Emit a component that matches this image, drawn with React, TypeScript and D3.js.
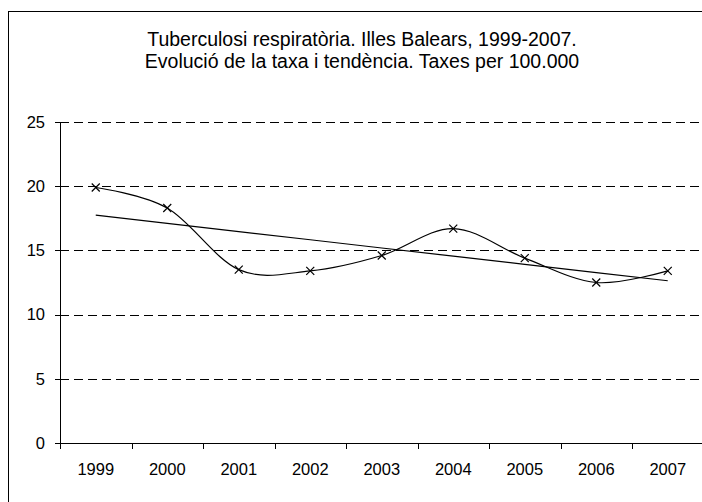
import React from "react";
import * as d3 from "d3";

const years = ["1999", "2000", "2001", "2002", "2003", "2004", "2005", "2006", "2007"];
const rates = [19.9, 18.3, 13.5, 13.4, 14.6, 16.7, 14.4, 12.5, 13.4];
const yTicks = [0, 5, 10, 15, 20, 25];
const titleLines = [
  "Tuberculosi respiratòria. Illes Balears, 1999-2007.",
  "Evolució de la taxa i tendència. Taxes per 100.000",
];

const W = 702;
const H = 502;
const left = 60;
const right = 703.5;
const top = 122;
const bottom = 443;

export default function App() {
  const x = d3.scaleBand<string>().domain(years).range([left, right]);
  const y = d3.scaleLinear().domain([0, 25]).range([bottom, top]);
  const cx = (d: string) => (x(d) as number) + x.bandwidth() / 2;

  // least squares trend
  const n = rates.length;
  const mx = (n - 1) / 2;
  const my = d3.mean(rates) as number;
  let sxy = 0;
  let sxx = 0;
  rates.forEach((v, i) => {
    sxy += (i - mx) * (v - my);
    sxx += (i - mx) * (i - mx);
  });
  const slope = sxy / sxx;
  const trend = rates.map((_, i) => my + slope * (i - mx));

  const smooth = d3
    .line<number>()
    .x((_, i) => cx(years[i]))
    .y((v) => y(v))
    .curve(d3.curveCatmullRom.alpha(0));
  const straight = d3
    .line<number>()
    .x((_, i) => cx(years[i]))
    .y((v) => y(v));

  const font = "Arial, 'Liberation Sans', sans-serif";

  return (
    <div style={{ position: "fixed", left: 0, top: 0 }}>
      <svg width={W} height={H} style={{ display: "block" }}>
        <rect x={0} y={0} width={W} height={H} fill="#fff" />
        <rect x={8.5} y={11.5} width={720} height={520} fill="none" stroke="#000" strokeWidth={1} />
        {titleLines.map((t, i) => (
          <text
            key={t}
            x={362}
            y={46 + i * 22}
            textAnchor="middle"
            fontFamily={font}
            fontSize={19.5}
            fill="#000"
          >
            {t}
          </text>
        ))}
        {yTicks.map((t) =>
          t === 0 ? null : (
            <line
              key={"g" + t}
              x1={left}
              x2={right}
              y1={Math.round(y(t)) + 0.5}
              y2={Math.round(y(t)) + 0.5}
              stroke="#000"
              strokeDasharray="9,5"
              strokeWidth={1}
            />
          )
        )}
        <line x1={left + 0.5} x2={left + 0.5} y1={top} y2={bottom} stroke="#000" />
        <line x1={left} x2={right} y1={bottom + 0.5} y2={bottom + 0.5} stroke="#000" />
        {yTicks.map((t) => (
          <g key={"y" + t}>
            <line x1={left - 5} x2={left} y1={Math.round(y(t)) + 0.5} y2={Math.round(y(t)) + 0.5} stroke="#000" />
            <text
              x={left - 15}
              y={y(t)}
              dy="0.35em"
              textAnchor="end"
              fontFamily={font}
              fontSize={16.5}
              fill="#000"
            >
              {t}
            </text>
          </g>
        ))}
        {years.map((yr) => (
          <g key={yr}>
            <line
              x1={Math.round(x(yr) as number) + 0.5}
              x2={Math.round(x(yr) as number) + 0.5}
              y1={bottom}
              y2={bottom + 6}
              stroke="#000"
            />
            <text
              x={cx(yr)}
              y={bottom + 26}
              dy="0.35em"
              textAnchor="middle"
              fontFamily={font}
              fontSize={16.5}
              fill="#000"
            >
              {yr}
            </text>
          </g>
        ))}
        <path d={straight(trend) ?? ""} fill="none" stroke="#000" strokeWidth={1.2} />
        <path d={smooth(rates) ?? ""} fill="none" stroke="#000" strokeWidth={1.2} />
        {rates.map((v, i) => {
          const px = cx(years[i]);
          const py = y(v);
          const s = 4;
          return (
            <path
              key={"m" + i}
              d={`M${px - s},${py - s}L${px + s},${py + s}M${px - s},${py + s}L${px + s},${py - s}`}
              stroke="#000"
              strokeWidth={1.2}
              fill="none"
            />
          );
        })}
      </svg>
    </div>
  );
}
